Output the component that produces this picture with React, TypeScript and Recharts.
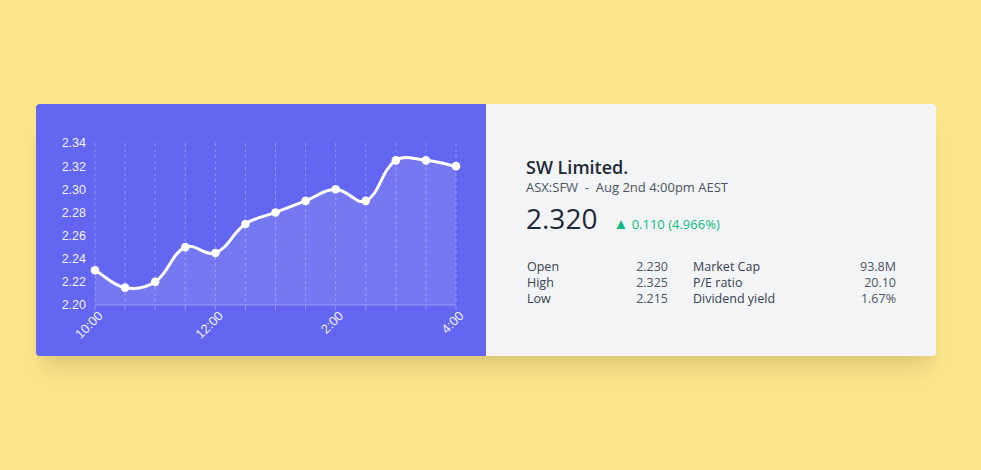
import React from 'react';
import { AreaChart, Area, XAxis, YAxis, CartesianGrid } from 'recharts';

const times = ['10:00', '10:30', '11:00', '11:30', '12:00', '12:30', '1:00', '1:30', '2:00', '2:30', '3:00', '3:30', '4:00'];
const prices = [2.23, 2.215, 2.22, 2.25, 2.245, 2.27, 2.28, 2.29, 2.3, 2.29, 2.325, 2.325, 2.32];
const yTicks = [2.2, 2.22, 2.24, 2.26, 2.28, 2.3, 2.32, 2.34];
const labeledTimes = ['10:00', '12:00', '2:00', '4:00'];

const statsLeft = [
  ['Open', '2.230'],
  ['High', '2.325'],
  ['Low', '2.215'],
];
const statsRight = [
  ['Market Cap', '93.8M'],
  ['P/E ratio', '20.10'],
  ['Dividend yield', '1.67%'],
];

const data = times.map((t, i) => ({ time: t, price: prices[i] }));

// Cardinal-like spline (tension 0.4), as used by classic line-chart libraries
function splineCurve(context: any) {
  let pts: number[][] = [];
  let line: number = NaN;
  const tension = 0.4;
  return {
    areaStart() { line = 0; },
    areaEnd() { line = NaN; },
    lineStart() { pts = []; },
    lineEnd() {
      const n = pts.length;
      if (n) {
        const [x0, y0] = pts[0];
        if (line) context.lineTo(x0, y0); else context.moveTo(x0, y0);
        if (n > 1) {
          const cps = pts.map((cur, i) => {
            const prev = pts[i - 1] || cur;
            const next = pts[i + 1] || cur;
            const d01 = Math.hypot(cur[0] - prev[0], cur[1] - prev[1]);
            const d12 = Math.hypot(next[0] - cur[0], next[1] - cur[1]);
            const s01 = d01 / (d01 + d12) || 0;
            const s12 = d12 / (d01 + d12) || 0;
            const fa = tension * s01;
            const fb = tension * s12;
            return {
              prev: [cur[0] - fa * (next[0] - prev[0]), cur[1] - fa * (next[1] - prev[1])],
              next: [cur[0] + fb * (next[0] - prev[0]), cur[1] + fb * (next[1] - prev[1])],
            };
          });
          for (let i = 0; i < n - 1; i++) {
            const a = cps[i].next;
            const b = cps[i + 1].prev;
            const p = pts[i + 1];
            context.bezierCurveTo(a[0], a[1], b[0], b[1], p[0], p[1]);
          }
        }
      }
      if (line || (line !== 0 && n === 1)) context.closePath();
      line = 1 - line;
    },
    point(x: number, y: number) { pts.push([+x, +y]); },
  };
}

const tickFont = "'Liberation Sans', Arial, sans-serif";

const XTick = (props: any) => {
  const { x, y, payload } = props;
  if (!labeledTimes.includes(payload.value)) return <g />;
  return (
    <g transform={`translate(${x + 2},${y - 2}) rotate(-45)`}>
      <text x={0} y={0} dy="0.71em" textAnchor="end" fill="rgba(255,255,255,0.92)" fontSize={13} fontFamily={tickFont}>
        {payload.value}
      </text>
    </g>
  );
};

const renderDot = (props: any) => {
  const { cx, cy, index } = props;
  if (cx == null || cy == null) return <g key={`d${index}`} />;
  return <circle key={`d${index}`} cx={cx} cy={cy} r={4.3} fill="#ffffff" />;
};

const font = "'Open Sans', 'Noto Sans', sans-serif";

const StatCol = ({ rows, left, width }: { rows: string[][]; left: number; width: number }) => (
  <div style={{ position: 'absolute', left, top: 155, width }}>
    {rows.map(([k, v]) => (
      <div key={k} style={{ display: 'flex', justifyContent: 'space-between', height: 15.8, lineHeight: '15.8px', fontSize: 12.5 }}>
        <span style={{ color: '#374151', fontWeight: 500 }}>{k}</span>
        <span style={{ color: '#4B5563' }}>{v}</span>
      </div>
    ))}
  </div>
);

export default function App() {
  return (
    <div style={{ position: 'absolute', left: 0, top: 0, width: 981, height: 470, background: '#FDE68A', fontFamily: font }}>
      <div
        style={{
          position: 'absolute', left: 36, top: 104, width: 900, height: 252, borderRadius: 4, overflow: 'hidden', display: 'flex',
          boxShadow: '0 20px 25px -5px rgba(0,0,0,0.10), 0 10px 10px -5px rgba(0,0,0,0.04)',
        }}
      >
        <div style={{ width: 450, height: 252, background: '#6366F1' }}>
          <AreaChart width={450} height={252} data={data} margin={{ top: 39, right: 30, bottom: 0, left: 0 }}>
            <CartesianGrid vertical horizontal={false} stroke="rgba(255,255,255,0.3)" strokeDasharray="3 3" />
            <XAxis
              dataKey="time"
              interval={0}
              height={51}
              tick={<XTick />}
              tickSize={5}
              tickLine={{ stroke: 'rgba(255,255,255,0.3)' }}
              axisLine={{ stroke: 'rgba(255,255,255,0.3)' }}
            />
            <YAxis
              width={59}
              domain={[2.2, 2.34]}
              ticks={yTicks}
              interval={0}
              tickFormatter={(v: number) => v.toFixed(2)}
              axisLine={false}
              tickLine={false}
              tickMargin={3}
              tick={{ fill: 'rgba(255,255,255,0.95)', fontSize: 12.5, fontFamily: tickFont }}
            />
            <Area
              dataKey="price"
              type={splineCurve as any}
              stroke="#ffffff"
              strokeWidth={3}
              fill="#ffffff"
              fillOpacity={0.12}
              dot={renderDot}
              activeDot={false}
              isAnimationActive={false}
            />
          </AreaChart>
        </div>
        <div style={{ position: 'relative', width: 450, height: 252, background: '#F3F4F6' }}>
          <div style={{ position: 'absolute', left: 40, top: 51, fontSize: 18, lineHeight: '24px', fontWeight: 600, color: '#1F2937' }}>SW Limited.</div>
          <div style={{ position: 'absolute', left: 40, top: 74, fontSize: 13, lineHeight: '18px', color: '#4B5563', whiteSpace: 'pre' }}>ASX:SFW  -  Aug 2nd 4:00pm AEST</div>
          <div style={{ position: 'absolute', left: 40, top: 95, display: 'flex', alignItems: 'baseline', whiteSpace: 'pre' }}>
            <span style={{ fontSize: 28, lineHeight: '38px', color: '#1F2937' }}>2.320</span>
            <span style={{ fontSize: 13, color: '#10B981', marginLeft: 16 }}>
              <span style={{ fontSize: 15 }}>▲</span> 0.110 (4.966%)
            </span>
          </div>
          <StatCol rows={statsLeft} left={41} width={141} />
          <StatCol rows={statsRight} left={207} width={203} />
        </div>
      </div>
    </div>
  );
}
